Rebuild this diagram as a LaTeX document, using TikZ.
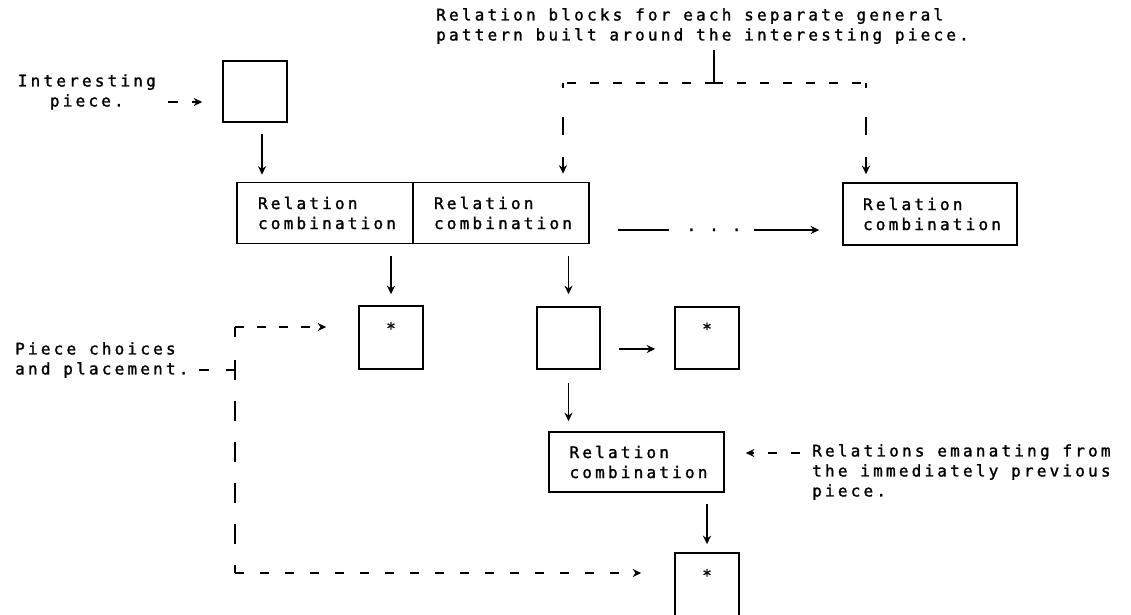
\documentclass[tikz,border=0pt]{standalone}
\usepackage{fontspec}
\setmonofont{DejaVu Sans Mono}[LetterSpace=20, FakeBold=1.5]
\usetikzlibrary{arrows.meta,calc}
\hfuzz=200pt
\hbadness=10000
\newcommand\lbltext{\ttfamily\fontsize{16}{20}\selectfont}
\begin{document}
\begin{tikzpicture}[x=1pt,y=-1pt,
  every node/.style={font=\lbltext, inner sep=0pt},
  box/.style={draw, line width=1.6pt, inner sep=0pt},
  relbox/.style={box, minimum width=176pt, minimum height=61pt, text width=134pt, align=left},
  piecebox/.style={box, minimum width=64pt, minimum height=63pt},
  starbox/.style={piecebox, text height=21.5pt, text depth=28.5pt},
  ln/.style={line width=1.6pt},
  arr/.style={ln, -{Stealth[length=8.5pt,width=8pt]}},
  hdash/.style={ln, dash pattern=on 9pt off 14pt},
  harr/.style={arr, dash pattern=on 10pt off 14pt},
  vdash/.style={arr, dash pattern=on 5pt off 29pt on 18pt off 22pt on 80pt},
  ldash/.style={ln, dash pattern=on 10pt off 23pt on 20pt off 21pt on 20pt off 21pt on 20pt off 21pt on 20pt off 21pt on 20pt off 21pt on 20pt},
  ladash/.style={arr, dash pattern=on 9pt off 13pt},
  badash/.style={arr, dash pattern=on 9pt off 16pt}
]
\useasboundingbox (0,0) rectangle (1131,614);
\fill[white] (0,0) rectangle (1131,614);
\clip (0,0) rectangle (1131,614);

% top explanatory text
\node[anchor=north west, align=left] (toplbl) at (436,8)
  {Relation blocks for each separate general\\pattern built around the interesting piece.};
\coordinate (tt) at (714,50);
\coordinate (tj) at (714,83);
\coordinate (cL) at (563,83);
\coordinate (cR) at (866,83);

% interesting piece
\node[box, minimum width=64pt, minimum height=61pt] (ip) at (255,91.5) {};
\node[anchor=east, align=center] (iplbl) at (156,92) {Interesting\\piece.};

% relation combinations, first row
\node[relbox] (rel1) at (325,213) {Relation\\combination};
\node[relbox] (rel2) at (501,213) {Relation\\combination};
\node[relbox, minimum width=174pt, minimum height=62pt] (rel3) at (930,214) {Relation\\combination};
\node[inner sep=0pt, text height=2pt, text depth=0pt] (dots) at (714,230) {.\hspace{13pt}.\hspace{13pt}.};

% pieces
\node[starbox] (star1) at (391,337.5) {*};
\node[piecebox, minimum width=63pt, minimum height=62pt] (p2) at (568.5,338) {};
\node[starbox, minimum height=62pt] (star2) at (707,338) {*};
\node[relbox, minimum width=175pt, minimum height=60pt] (rel4) at (636.5,462) {Relation\\combination};
\node[starbox] (star3) at (707,584.5) {*};

% labels
\node[anchor=west, align=left] (pclbl) at (15,360) {Piece choices\\and placement.};
\node[anchor=west, align=left] (rellbl) at (812,472) {Relations emanating from\\the immediately previous\\piece.};

\coordinate (ctop) at (235,327);
\coordinate (cbot) at (235,573);
\coordinate (pcj) at (235,370);

% top bracket
\draw[ln] (tt) -- (tj);
\draw[hdash] (tj) -- (cL);
\draw[hdash] (tj) -- (cR);
\draw[vdash, shorten >=8pt] (cL) -- (cL |- rel2.north);
\draw[vdash, shorten >=8pt] (cR) -- (cR |- rel3.north);

% interesting piece connectors
\draw[harr, shorten <=12pt, shorten >=20pt] ([yshift=-10pt]iplbl.east) -- ([yshift=-10pt]iplbl.east -| ip.west);
\draw[arr, shorten <=11pt, shorten >=7pt] ([xshift=7pt]ip.south) -- ([xshift=7pt]ip.south |- rel1.north);

% row connectors
\draw[ln, shorten <=28pt, shorten >=17pt] (rel2.east |- dots.west) -- (dots.west);
\draw[arr, shorten <=12pt, shorten >=23pt] (dots.east) -- (dots.east -| rel3.west);
\draw[arr, shorten <=12pt, shorten >=11pt] (star1.north |- rel1.south) -- (star1.north);
\draw[arr, shorten <=12pt, shorten >=12pt] (p2.north |- rel2.south) -- (p2.north);
\draw[arr, shorten <=18pt, shorten >=19pt] ([yshift=-11pt]p2.east) -- ([yshift=-11pt]p2.east -| star2.west);
\draw[arr, shorten <=13pt, shorten >=10pt] (p2.south) -- (p2.south |- rel4.north);
\draw[arr, shorten <=11pt, shorten >=8pt] (star3.north |- rel4.south) -- (star3.north);

% piece choices bracket
\draw[ldash] (ctop) -- (cbot);
\draw[ln, dash pattern=on 10pt off 17pt, shorten <=10pt] ([yshift=-10pt]pclbl.east) -- (pcj);
\draw[ladash, shorten >=32pt] (ctop) -- (ctop -| star1.west);
\draw[badash, shorten >=33pt] (cbot) -- (cbot -| star3.west);

% relations emanating
\draw[harr, dash pattern=on 9pt off 14pt, shorten <=12pt, shorten >=21pt] ([yshift=19pt]rellbl.west) -- ([yshift=19pt]rellbl.west -| rel4.east);
\end{tikzpicture}
\end{document}
